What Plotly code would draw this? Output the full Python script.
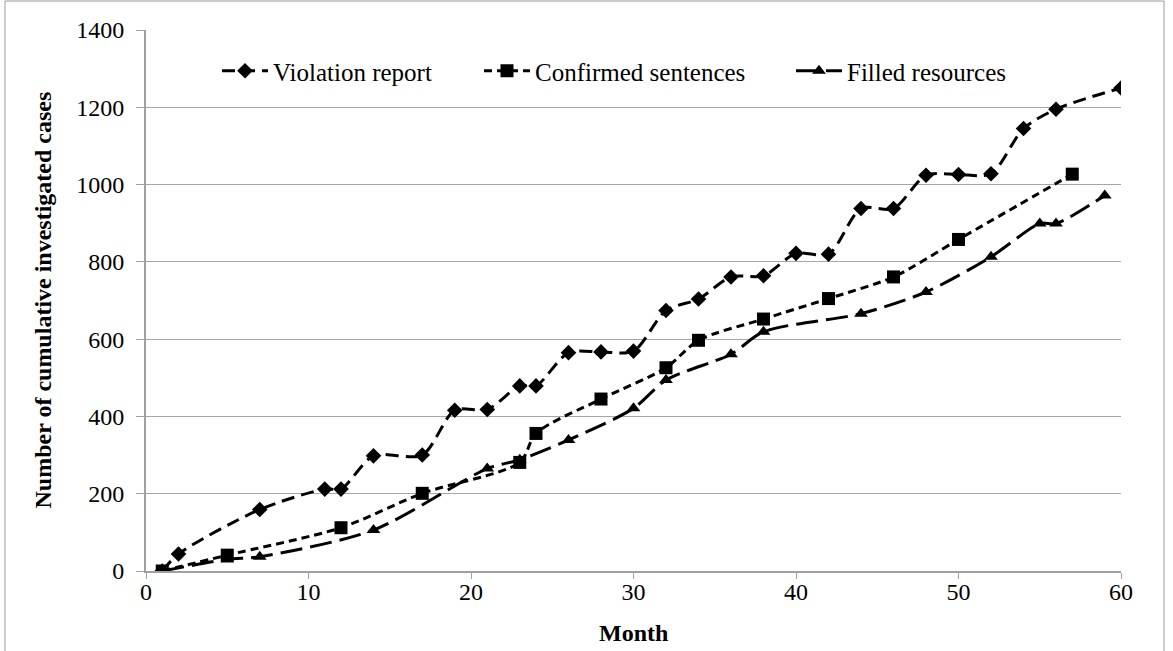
import plotly.graph_objects as go

# ---- data ----
violation_month = [1, 2, 7, 11, 12, 14, 17, 19, 21, 23, 24, 26, 28, 30, 32, 34, 36, 38, 40, 42, 44, 46, 48, 50, 52, 54, 56, 60]
violation_cases = [0, 44, 159, 212, 212, 298, 300, 416, 418, 479, 479, 565, 567, 569, 674, 704, 761, 764, 822, 820, 938, 938, 1024, 1026, 1028, 1145, 1195, 1250]

confirmed_month = [1, 5, 12, 17, 23, 24, 28, 32, 34, 38, 42, 46, 50, 57]
confirmed_cases = [0, 41, 112, 201, 281, 356, 445, 526, 597, 652, 705, 761, 858, 1027]

filled_month = [1, 5, 7, 14, 21, 23, 26, 30, 32, 36, 38, 44, 48, 52, 55, 56, 59]
filled_cases = [0, 30, 37, 106, 265, 288, 339, 421, 494, 561, 619, 666, 722, 813, 899, 899, 972]

series_names = ["Violation report", "Confirmed sentences", "Filled resources"]
x_title = "Month"
y_title = "Number of cumulative investigated cases"
x_ticks = [0, 10, 20, 30, 40, 50, 60]
y_ticks = [0, 200, 400, 600, 800, 1000, 1200, 1400]

FONT = "Liberation Serif"
BLACK = "#000000"

fig = go.Figure()
fig.add_trace(go.Scatter(
    x=violation_month, y=violation_cases, name=series_names[0], mode="lines+markers",
    line=dict(color=BLACK, width=3, dash="13px,7px", shape="spline", smoothing=0.8),
    marker=dict(symbol="diamond", size=12, color=BLACK), legend="legend"))
fig.add_trace(go.Scatter(
    x=confirmed_month, y=confirmed_cases, name=series_names[1], mode="lines+markers",
    line=dict(color=BLACK, width=3, dash="8px,5px", shape="spline", smoothing=0.8),
    marker=dict(symbol="square", size=13, color=BLACK), legend="legend2"))
fig.add_trace(go.Scatter(
    x=filled_month, y=filled_cases, name=series_names[2], mode="lines+markers",
    line=dict(color=BLACK, width=3, dash="22px,8px", shape="spline", smoothing=0.8),
    marker=dict(symbol="triangle-up", size=12, color=BLACK), legend="legend3"))

L, R, T, B = 146, 52, 30, 80
W, H = 1173, 651
pw, ph = W - L - R, H - T - B

def px_x(p):
    return (p - L) / pw

def px_y(p):
    return (H - B - p) / ph

legend_common = dict(orientation="h", yanchor="middle", xanchor="left",
                     font=dict(family=FONT, size=25, color=BLACK),
                     bgcolor="rgba(0,0,0,0)", itemwidth=46)

fig.update_layout(
    width=W, height=H,
    margin=dict(l=L, r=R, t=T, b=B, autoexpand=False),
    paper_bgcolor="white", plot_bgcolor="white",
    showlegend=True,
    font=dict(family=FONT, color=BLACK, size=24),
    legend=dict(x=px_x(217), y=px_y(71), **legend_common),
    legend2=dict(x=px_x(479), y=px_y(71), **legend_common),
    legend3=dict(x=px_x(791), y=px_y(71), **legend_common),
    xaxis=dict(range=[0, 60], tickvals=x_ticks, showgrid=False, zeroline=False,
               showline=True, linecolor="#a0a0a0", linewidth=2,
               ticks="outside", ticklen=6, tickcolor="#a0a0a0",
               ticklabelstandoff=-8, automargin=False,
               tickfont=dict(family=FONT, size=24, color=BLACK)),
    yaxis=dict(range=[0, 1400], tickvals=y_ticks, showgrid=True, gridcolor="#a6a6a6", gridwidth=1,
               zeroline=False, showline=True, linecolor="#a0a0a0", linewidth=2,
               ticks="outside", ticklen=8, tickcolor="#a0a0a0",
               ticklabelstandoff=7, automargin=False,
               tickfont=dict(family=FONT, size=24, color=BLACK)),
)

# axis titles
fig.add_annotation(text="<b>" + x_title + "</b>", xref="paper", yref="paper",
                   x=0.5, y=px_y(633), xanchor="center", yanchor="middle", showarrow=False,
                   font=dict(family=FONT, size=24, color=BLACK))
fig.add_annotation(text="<b>" + y_title + "</b>", xref="paper", yref="paper",
                   x=px_x(42), y=0.5, xanchor="center", yanchor="middle", showarrow=False,
                   textangle=-90, font=dict(family=FONT, size=24, color=BLACK))

# outer chart border
fig.add_shape(type="rect", xref="paper", yref="paper",
              x0=px_x(5), x1=px_x(1164), y0=px_y(660), y1=px_y(1),
              line=dict(color="#9a9a9a", width=1), fillcolor="rgba(0,0,0,0)", layer="below")

fig.write_html("out.html", config={"displayModeBar": False},
               post_script="document.body.style.margin='0px';")
